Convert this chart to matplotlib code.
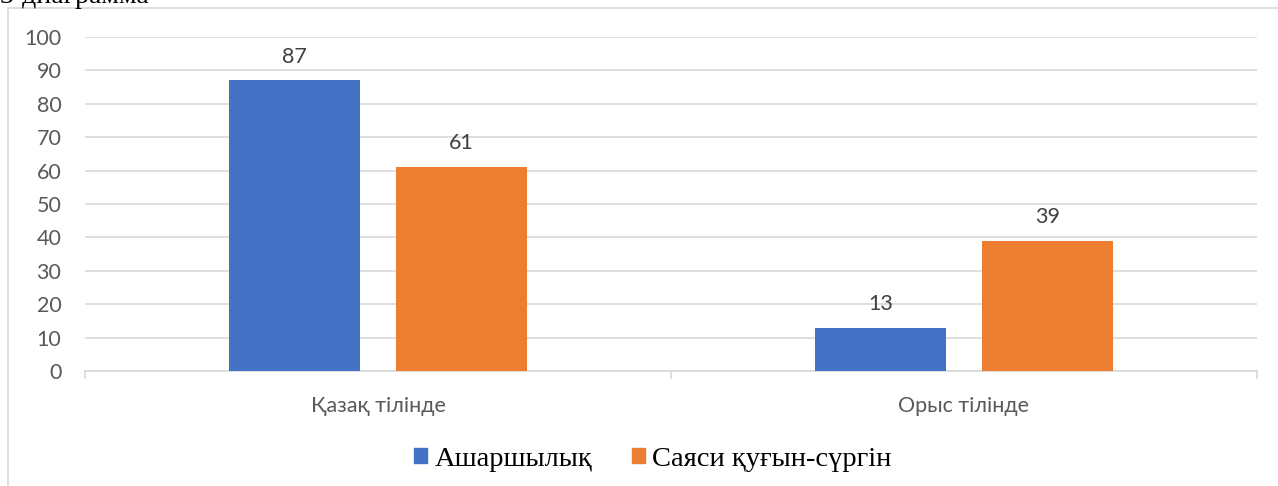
import matplotlib
matplotlib.use("Agg")
import matplotlib.pyplot as plt
from matplotlib.patches import Rectangle
from matplotlib.lines import Line2D
import numpy as np

categories = ["Қазақ тілінде", "Орыс тілінде"]
series_names = ["Ашаршылық", "Саяси қуғын-сүргін"]
ashar = [87, 13]
sayasi = [61, 39]
yticks = [0, 10, 20, 30, 40, 50, 60, 70, 80, 90, 100]
colors = ["#4472C4", "#ED7D31"]

W, H = 1278, 486
fig = plt.figure(figsize=(W / 100, H / 100), dpi=100)
ax = fig.add_axes([85 / W, (H - 371) / H, (1257 - 85) / W, (371 - 37) / H])

FS = 15.5
x = np.arange(len(categories))
bw = 0.224
off = 0.1425
b1 = ax.bar(x - off, ashar, bw, color=colors[0], zorder=3)
b2 = ax.bar(x + off, sayasi, bw, color=colors[1], zorder=3)

for bars, vals in ((b1, ashar), (b2, sayasi)):
    for r, v in zip(bars, vals):
        ax.annotate(str(v), (r.get_x() + r.get_width() / 2, v), xytext=(0, 10),
                    textcoords="offset points", ha="center", va="bottom",
                    fontsize=FS, color="#404040", family="Lato")

ax.set_xlim(-0.5, 1.5)
ax.set_ylim(0, 100)
ax.set_yticks(yticks)
ax.set_yticklabels([str(t) for t in yticks], fontsize=FS, color="#595959", family="Lato")
ax.tick_params(axis="y", length=0, pad=17)
ax.set_xticks(x)
ax.set_xticklabels(categories, fontsize=FS, color="#595959", family="Lato")
ax.tick_params(axis="x", length=0, pad=18)
ax.grid(axis="y", color="#d9d9d9", linewidth=1.2, zorder=0)
for s in ["top", "right", "left"]:
    ax.spines[s].set_visible(False)
ax.spines["bottom"].set_color("#d9d9d9")
ax.spines["bottom"].set_linewidth(1.2)
# category separator ticks
for xs in (-0.5, 0.5, 1.5):
    ax.plot([xs, xs], [0, -2.2], color="#d9d9d9", lw=1.2, clip_on=False, zorder=2)

# chart frame
fig.add_artist(Line2D([8 / W, 8 / W], [0, 1 - 8 / H], color="#d9d9d9", lw=1.2))
fig.add_artist(Line2D([8 / W, 1], [1 - 8 / H, 1 - 8 / H], color="#d9d9d9", lw=1.2))

# caption above the chart (cut off at the top edge in the reference as well)
fig.text(0, 1 - 3 / H, "3-диаграмма", fontsize=20, family="Liberation Serif",
         color="black", ha="left", va="baseline")

# legend
handles = [Rectangle((0, 0), 1, 1, color=c) for c in colors]
leg = fig.legend(handles, series_names, loc="center", bbox_to_anchor=(653 / W, 1 - 459 / H),
                 ncol=2, frameon=False, prop={"family": "Liberation Serif", "size": 20.5},
                 handlelength=0.46, handleheight=0.46, handletextpad=0.25, columnspacing=1.4)

fig.savefig("out.png", dpi=100)
